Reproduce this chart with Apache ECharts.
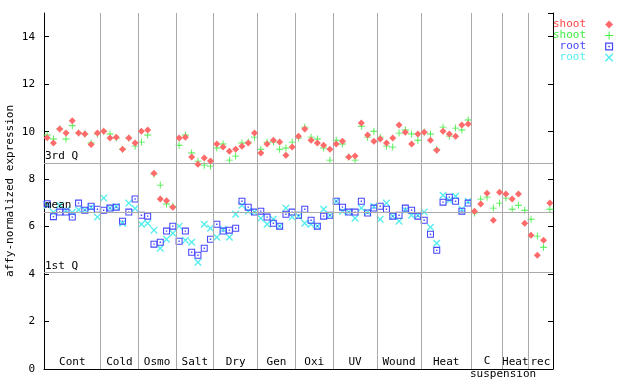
<!DOCTYPE html>
<html><head><meta charset="utf-8">
<script src="https://cdn.jsdelivr.net/npm/echarts@6/dist/echarts.min.js"></script>
<style>html,body{margin:0;padding:0;background:#fff}#c{width:640px;height:384px}</style>
</head><body><div id="c"></div>
<script>
// values per sample slot (0..80)
const shootRep1 = [9.74,9.52,10.11,9.94,10.46,9.94,9.90,9.46,9.94,10.02,9.73,9.77,9.26,9.73,9.52,10.02,10.07,8.25,7.16,7.09,6.82,9.73,9.77,8.93,8.63,8.89,8.76,9.48,9.35,9.18,9.26,9.39,9.52,9.94,9.10,9.48,9.64,9.56,9.01,9.35,9.81,10.11,9.64,9.52,9.43,9.26,9.48,9.60,8.93,8.97,10.36,9.86,9.60,9.69,9.52,9.73,10.28,9.98,9.48,9.90,9.98,9.64,9.22,10.02,9.90,9.81,10.28,10.32,6.65,6.95,7.41,6.27,7.45,7.37,7.16,7.37,6.14,5.64,4.79,5.43,6.99];
const shootRep2 = [9.86,9.69,10.11,9.69,10.25,9.94,9.90,9.52,9.90,10.02,9.90,9.73,9.26,9.73,9.39,9.56,9.86,8.21,7.75,6.95,6.86,9.43,9.86,9.10,8.76,8.59,8.55,9.31,9.48,8.80,8.97,9.52,9.56,9.77,9.26,9.56,9.56,9.26,9.31,9.56,9.73,10.19,9.77,9.69,9.31,8.80,9.64,9.48,8.93,8.80,10.23,9.77,10.02,9.77,9.39,9.35,9.94,10.07,9.90,9.64,9.98,9.90,9.26,10.19,9.81,10.15,10.07,10.49,6.57,7.16,7.24,6.78,6.99,7.20,6.73,6.90,6.69,6.31,5.60,5.13,6.73];
const rootRep1 = [6.96,6.42,6.61,6.61,6.40,6.99,6.69,6.86,6.73,6.69,6.78,6.82,6.23,6.61,7.16,6.48,6.44,5.26,5.34,5.81,6.02,5.38,5.81,4.92,4.79,5.09,5.47,6.10,5.81,5.85,5.93,7.07,6.82,6.61,6.65,6.40,6.14,6.02,6.52,6.61,6.48,6.73,6.27,6.02,6.44,6.48,7.07,6.82,6.61,6.61,7.07,6.57,6.78,6.86,6.73,6.44,6.48,6.78,6.69,6.44,6.27,5.68,5.00,7.03,7.24,7.07,6.65,6.99,null,null,null,null,null,null,null,null,null,null,null,null,null];
const rootRep2 = [6.90,6.60,6.90,6.69,6.60,6.71,6.70,6.80,6.40,7.20,6.78,6.85,6.14,6.99,6.76,6.10,6.14,5.85,5.09,5.47,5.72,6.02,5.43,5.34,4.50,6.10,5.93,5.55,5.89,5.55,6.52,6.90,6.65,6.61,6.35,6.10,6.31,6.02,6.78,6.40,6.44,6.14,6.10,6.02,6.73,6.48,7.07,6.65,6.61,6.35,6.78,6.61,6.86,6.31,6.99,6.44,6.23,6.69,6.48,6.48,6.61,5.97,5.30,7.32,7.11,7.28,6.73,7.07,null,null,null,null,null,null,null,null,null,null,null,null,null];

const groupNames = ['Cont','Cold','Osmo','Salt','Dry','Gen','Oxi','UV','Wound','Heat','C','Heat','rec'];
const groupBounds = [0,9,15,21,27,34,40,46,53,60,68,73,77,81];
const refValues = [8.69, 6.62, 4.08];
const refLabels = ['3rd Q','mean','1st Q'];
const yMin = 0, yMax = 15, yStep = 2;
const seriesNames = ['shoot1','shoot2','root1','root2'];
const legendTexts = ['shoot','shoot',' root',' root'];

const FONT = 'DejaVu Sans Mono';
const colors = ['#ff6a6a','#44ee44','#4646ff','#55eeee'];
const textColors = ['#ff4444','#44ee44','#4444ff','#55eeee'];
const symbols = [
  'diamond',
  'path://M3.5 0H4.5V3.5H8V4.5H4.5V8H3.5V4.5H0V3.5H3.5Z',
  'path://M0 0H8V8H0Z M1.2 1.2V6.8H6.8V1.2Z M3.2 3.2H4.8V4.8H3.2Z',
  'path://M0 0L1.1 0L4 2.9L6.9 0L8 0L8 1.1L5.1 4L8 6.9L8 8L6.9 8L4 5.1L1.1 8L0 8L0 6.9L2.9 4L0 1.1Z'
];
const allVals = [shootRep1, shootRep2, rootRep1, rootRep2];

function toPoints(arr){
  const out = [];
  arr.forEach((v,i)=>{ if(v!==null) out.push([i+0.5, v]); });
  return out;
}

const sepLines = groupBounds.slice(1,-1).map(b=>({xAxis:b}));
const refLines = refValues.map((v,i)=>({yAxis:v, label:{formatter:refLabels[i]}}));

const areas = groupNames.map((n,i)=>{
  const first = {xAxis: groupBounds[i], name: n};
  if (n === 'C') {
    first.label = {formatter: '{a|C}\n{b|suspension}', offset:[0,13],
      rich:{a:{fontFamily:FONT,fontSize:11,color:'#000',lineHeight:13},
            b:{fontFamily:FONT,fontSize:11,color:'#000',lineHeight:13,padding:[0,0,0,32]}}};
  }
  return [first, {xAxis: groupBounds[i+1]}];
});

const series = seriesNames.map((name,k)=>({
  name, type:'scatter', symbol: symbols[k], symbolSize: 7,
  itemStyle:{color: colors[k], opacity:1}, data: toPoints(allVals[k]),
  z: 5-k, silent:true
}));
series[0].markLine = {
  silent:true, symbol:'none', animation:false,
  lineStyle:{color:'#aaaaaa', width:1, type:'solid'},
  label:{show:true, position:'insideStartTop', distance:[1,1], color:'#000', fontFamily:FONT, fontSize:11},
  data: [...refLines, ...sepLines.map(d=>Object.assign({label:{show:false}}, d))]
};
series[0].markArea = {
  silent:true, itemStyle:{color:'rgba(0,0,0,0)'},
  label:{show:true, position:'insideBottom', distance:1, color:'#000', fontFamily:FONT, fontSize:11},
  data: areas
};

const chart = echarts.init(document.getElementById('c'), null, {renderer:'canvas'});
chart.setOption({
  animation:false,
  backgroundColor:'#fff',
  textStyle:{fontFamily:FONT},
  grid:{left:44, right:87, top:13, bottom:15, containLabel:false, outerBoundsMode:'none'},
  legend:{
    orient:'vertical', left:548, top:14, align:'right', itemGap:0,
    itemWidth:8, itemHeight:8, selectedMode:false,
    textStyle:{fontFamily:FONT, fontSize:11, lineHeight:11, padding:[0,14,0,0]},
    formatter: name => legendTexts[seriesNames.indexOf(name)],
    data: seriesNames.map((n,k)=>({name:n, textStyle:{color:textColors[k]}}))
  },
  xAxis:{type:'value', min:0, max:81, axisLine:{lineStyle:{color:'#000'}},
    axisTick:{show:false}, axisLabel:{show:false}, splitLine:{show:false}},
  yAxis:[
    {type:'value', min:yMin, max:yMax, interval:yStep, name:'affy-normalized expression',
     nameLocation:'middle', nameGap:28, nameMoveOverlap:false,
     nameTextStyle:{fontFamily:FONT, fontSize:11, color:'#000'},
     axisLine:{show:true, lineStyle:{color:'#000'}}, axisTick:{show:true, inside:true, length:5, lineStyle:{color:'#000'}},
     axisLabel:{color:'#000', fontFamily:FONT, fontSize:11, margin:9, showMaxLabel:false},
     splitLine:{show:false}},
    {type:'value', min:yMin, max:yMax, interval:yStep, position:'right',
     axisLine:{show:true, lineStyle:{color:'#000'}}, axisTick:{show:true, inside:true, length:5, lineStyle:{color:'#000'}},
     axisLabel:{show:false}, splitLine:{show:false}}
  ],
  series
});
</script></body></html>
